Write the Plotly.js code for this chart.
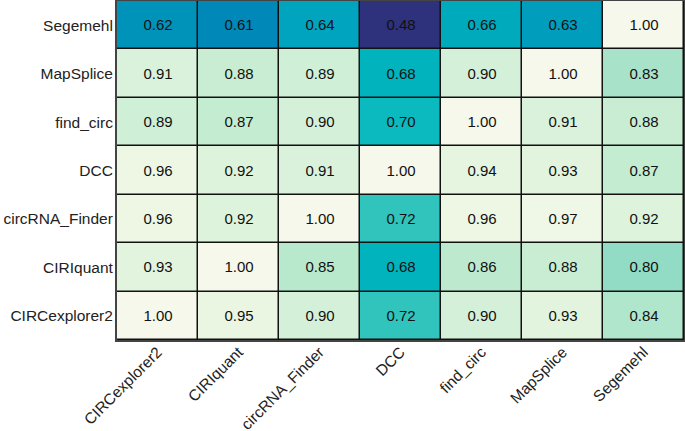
<!DOCTYPE html>
<html>
<head>
<meta charset="utf-8">
<script src="https://cdn.plot.ly/plotly-3.0.1.min.js"></script>
<style>html,body{margin:0;padding:0;background:#fff;}#chart{width:685px;height:431px;}</style>
</head>
<body>
<div id="chart"></div>
<script>
// Column categories (x axis, left to right)
const tools_x = ["CIRCexplorer2", "CIRIquant", "circRNA_Finder", "DCC", "find_circ", "MapSplice", "Segemehl"];
// Row categories (y axis, bottom to top)
const tools_y = ["CIRCexplorer2", "CIRIquant", "circRNA_Finder", "DCC", "find_circ", "MapSplice", "Segemehl"];

// Values per row (bottom to top), each listed by column
const row_CIRCexplorer2  = [1.00, 0.95, 0.90, 0.72, 0.90, 0.93, 0.84];
const row_CIRIquant      = [0.93, 1.00, 0.85, 0.68, 0.86, 0.88, 0.80];
const row_circRNA_Finder = [0.96, 0.92, 1.00, 0.72, 0.96, 0.97, 0.92];
const row_DCC            = [0.96, 0.92, 0.91, 1.00, 0.94, 0.93, 0.87];
const row_find_circ      = [0.89, 0.87, 0.90, 0.70, 1.00, 0.91, 0.88];
const row_MapSplice      = [0.91, 0.88, 0.89, 0.68, 0.90, 1.00, 0.83];
const row_Segemehl       = [0.62, 0.61, 0.64, 0.48, 0.66, 0.63, 1.00];

const zmin = 0.48, zmax = 1.00;
const colorStopValues = [0.48, 0.61, 0.62, 0.63, 0.64, 0.66, 0.68, 0.70, 0.72, 0.80, 0.83, 0.85, 0.88, 0.90, 0.93, 0.96, 1.00];
const colorStopColors = ["#2e317c", "#0088b8", "#0093ba", "#009dbd", "#00a4bf", "#00aabd", "#00b3bd", "#0bbabe", "#30c4bd", "#92dbc4", "#a8e2c9", "#b8e9cd", "#c8edd3", "#d5f0d9", "#e3f4de", "#edf7e4", "#f6f8eb"];

const colorscale = colorStopValues.map((v, i) => [(v - zmin) / (zmax - zmin), colorStopColors[i]]);
const z = [row_CIRCexplorer2, row_CIRIquant, row_circRNA_Finder, row_DCC, row_find_circ, row_MapSplice, row_Segemehl];

const trace = {
  type: "heatmap",
  x: tools_x,
  y: tools_y,
  z: z,
  zmin: zmin,
  zmax: zmax,
  colorscale: colorscale,
  showscale: false,
  xgap: 1.5,
  ygap: 1.5,
  texttemplate: "%{z:.2f}",
  textfont: {family: "Liberation Sans, Arial, sans-serif", size: 15, color: "#111"},
  hoverinfo: "skip"
};

const layout = {
  width: 685,
  height: 431,
  margin: {l: 117, r: 1, t: 1, b: 91},
  paper_bgcolor: "#ffffff",
  plot_bgcolor: "#111111",
  font: {family: "Liberation Sans, Arial, sans-serif", size: 15, color: "#222"},
  xaxis: {
    type: "category",
    automargin: false,
    tickangle: -45,
    ticks: "",
    ticklabelstandoff: -5,
    showgrid: false,
    zeroline: false,
    showline: true,
    linecolor: "#444",
    linewidth: 2,
    mirror: true,
    tickfont: {size: 15.5, color: "#222"}
  },
  yaxis: {
    type: "category",
    automargin: false,
    ticks: "",
    showgrid: false,
    zeroline: false,
    showline: true,
    linecolor: "#444",
    linewidth: 2,
    mirror: true,
    ticklabelstandoff: -1,
    tickfont: {size: 15.5, color: "#222"}
  }
};

Plotly.newPlot("chart", [trace], layout, {displayModeBar: false, staticPlot: true});
</script>
</body>
</html>
